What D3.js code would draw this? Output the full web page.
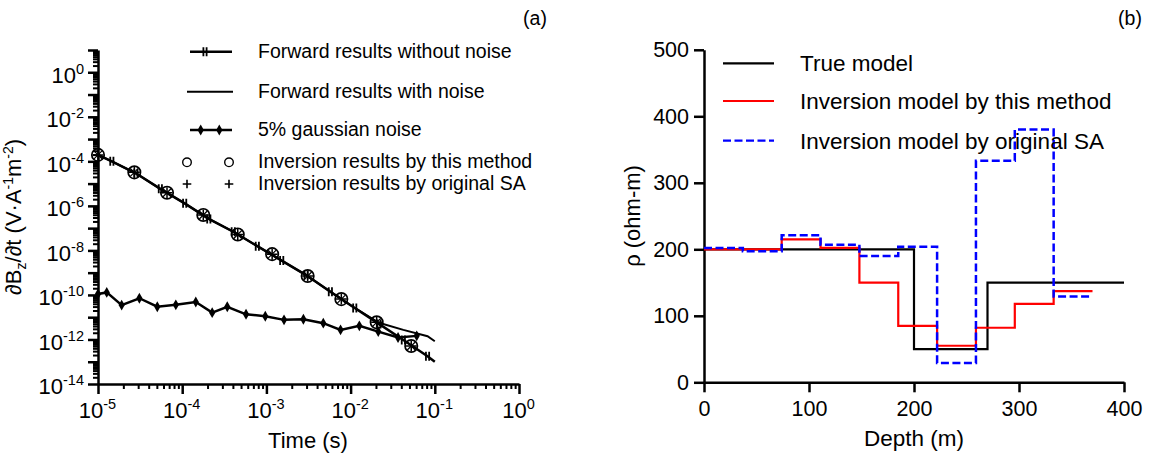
<!DOCTYPE html>
<html>
<head>
<meta charset="utf-8">
<script src="https://cdn.jsdelivr.net/npm/d3@7"></script>
<style>
  body { margin: 0; background: #fff; }
  text { font-family: Arial, "Liberation Sans", sans-serif; fill: #000; }
</style>
</head>
<body>
<script>
// ---- panel (a) data ----
var fwdTimes = [1.0e-5, 1.46e-5, 2.82e-5, 5.5e-5, 1.07e-4, 2.07e-4, 4.04e-4, 7.8e-4, 1.52e-3, 2.96e-3, 5.75e-3, 1.12e-2, 2.17e-2, 4.23e-2, 8.2e-2, 0.1];
var fwdClean = [1.95e-4, 1.0e-4, 2.9e-5, 5.8e-6, 1.3e-6, 2.6e-7, 6.9e-8, 1.55e-8, 3.5e-9, 7.8e-10, 1.4e-10, 2.6e-11, 5.0e-12, 9.5e-13, 1.75e-13, 1.0e-13];
var fwdNoisy = [1.95e-4, 1.0e-4, 2.9e-5, 5.8e-6, 1.3e-6, 2.6e-7, 6.9e-8, 1.55e-8, 3.5e-9, 7.8e-10, 1.4e-10, 2.6e-11, 5.6e-12, 2.7e-12, 1.4e-12, 8.3e-13];
var noiseTimes = [1.0e-5, 1.27e-5, 1.91e-5, 3.1e-5, 5.06e-5, 8.4e-5, 1.45e-4, 2.27e-4, 3.43e-4, 5.73e-4, 9.7e-4, 1.62e-3, 2.75e-3, 4.74e-3, 7.6e-3, 1.27e-2, 2.13e-2, 3.66e-2, 6.1e-2];
var noiseValues = [1.1e-10, 1.3e-10, 3.5e-11, 7.1e-11, 2.95e-11, 3.6e-11, 4.8e-11, 1.6e-11, 2.95e-11, 1.35e-11, 1.1e-11, 7.6e-12, 8.1e-12, 5.4e-12, 2.7e-12, 4.1e-12, 2.25e-12, 1.23e-12, 1.45e-12];
var invTimes = [1.0e-5, 2.7e-5, 6.6e-5, 1.78e-4, 4.57e-4, 1.17e-3, 3.09e-3, 7.76e-3, 2.04e-2, 5.25e-2];
var invValues = [1.95e-4, 3.2e-5, 3.9e-6, 3.9e-7, 5.2e-8, 6.8e-9, 7.1e-10, 6.5e-11, 5.9e-12, 5.1e-13];
var timeTicks = [-5, -4, -3, -2, -1, 0];
var ampTicks = [0, -2, -4, -6, -8, -10, -12, -14];

var legendA = ["Forward results without noise", "Forward results with noise", "5% gaussian noise",
               "Inversion results by this method", "Inversion results by original SA"];

// ---- panel (b) data ----
var trueDepths = [0, 200, 270, 400];
var trueRho = [200, 50, 150];
var layerDepths = [0, 37, 74, 111, 148, 185, 222, 259, 296, 333, 370];
var thisRho = [200, 200, 215, 202, 150, 85, 55, 82, 118, 137];
var saRho = [202, 197, 221, 207, 190, 204, 29, 333, 380, 129];
var depthTicks = [0, 100, 200, 300, 400];
var rhoTicks = [0, 100, 200, 300, 400, 500];

var legendB = [
  {name: "True model", color: "#000", dash: null},
  {name: "Inversion model by this method", color: "#ff0000", dash: null},
  {name: "Inversion model by original SA", color: "#0000ff", dash: "8,3.5"}
];

var W = 1157, H = 455;
var svg = d3.select("body").append("svg").attr("width", W).attr("height", H);

// ================= panel (a) =================
var x = d3.scaleLog().domain([1e-5, 1]).range([98, 519]);
var y = d3.scaleLog().domain([1e-14, 10]).range([384, 50]);

function minorTicks(lo, hi) {
  var out = [];
  for (var e = lo; e < hi; e++)
    for (var k = 2; k <= 9; k++) out.push(k * Math.pow(10, e));
  return out;
}
function supText(sel, exp) {
  sel.text(null);
  sel.append("tspan").text("10");
  sel.append("tspan").attr("dy", -9).style("font-size", "14.5px").text(exp);
}

var gA = svg.append("g");

// x axis (a)
gA.append("g").attr("transform", "translate(0,384)")
  .call(d3.axisBottom(x).tickValues(minorTicks(-5, 0)).tickSize(5).tickFormat(""))
  .call(function (g) { g.select(".domain").remove(); g.selectAll("line").attr("stroke-width", 2); });
var xa = gA.append("g").attr("transform", "translate(0,384)")
  .call(d3.axisBottom(x).tickValues(timeTicks.map(function (e) { return Math.pow(10, e); }))
        .tickSize(10).tickSizeOuter(0).tickPadding(8));
xa.select(".domain").attr("stroke-width", 2.5);
xa.selectAll("line").attr("stroke-width", 2.5);
xa.selectAll("text").style("font-size", "22px").attr("dx", -1)
  .each(function (d) { supText(d3.select(this), Math.round(Math.log10(d))); });

// y axis (a)
gA.append("g").attr("transform", "translate(98,0)")
  .call(d3.axisLeft(y).tickValues(minorTicks(-14, 1)).tickSize(5).tickFormat(""))
  .call(function (g) { g.select(".domain").remove(); g.selectAll("line").attr("stroke-width", 2); });
var ya = gA.append("g").attr("transform", "translate(98,0)")
  .call(d3.axisLeft(y).tickValues(d3.range(-14, 2).map(function (e) { return Math.pow(10, e); }))
        .tickSize(10).tickSizeOuter(0).tickPadding(4));
ya.select(".domain").attr("stroke-width", 2.5);
ya.selectAll("line").attr("stroke-width", 2.5);
ya.selectAll("text").style("font-size", "22px").attr("dy", "0.45em")
  .each(function (d) {
    var e = Math.round(Math.log10(d));
    if (ampTicks.indexOf(e) < 0) { d3.select(this).remove(); return; }
    supText(d3.select(this), e);
  });

// titles (a)
gA.append("text").attr("x", 308).attr("y", 448).attr("text-anchor", "middle")
  .style("font-size", "22px").text("Time (s)");
var yt = gA.append("text").attr("transform", "translate(21,217) rotate(-90)")
  .attr("text-anchor", "middle").style("font-size", "22px");
yt.append("tspan").text("\u2202B");
yt.append("tspan").attr("dy", 5).style("font-size", "14px").text("z");
yt.append("tspan").attr("dy", -5).text("/\u2202t (V\u00b7A");
yt.append("tspan").attr("dy", -8).style("font-size", "14px").text("-1");
yt.append("tspan").attr("dy", 8).text("m");
yt.append("tspan").attr("dy", -8).style("font-size", "14px").text("-2");
yt.append("tspan").attr("dy", 8).text(")");
gA.append("text").attr("x", 535).attr("y", 25).attr("text-anchor", "middle")
  .style("font-size", "19.5px").text("(a)");

// series (a)
var lineA = d3.line().x(function (d) { return x(d[0]); }).y(function (d) { return y(d[1]); });
var zip = function (a, b) { return a.map(function (v, i) { return [v, b[i]]; }); };

gA.append("path").datum(zip(fwdTimes, fwdNoisy)).attr("d", lineA)
  .attr("fill", "none").attr("stroke", "#000").attr("stroke-width", 2);
gA.append("path").datum(zip(fwdTimes, fwdClean)).attr("d", lineA)
  .attr("fill", "none").attr("stroke", "#000").attr("stroke-width", 2.5);
gA.append("path").datum(zip(noiseTimes, noiseValues)).attr("d", lineA)
  .attr("fill", "none").attr("stroke", "#000").attr("stroke-width", 2.5);

function barMark(g, cx, cy) {
  g.append("path").attr("d", "M" + (cx - 1.6) + "," + (cy - 4.5) + "v9M" + (cx + 1.6) + "," + (cy - 4.5) + "v9")
    .attr("stroke", "#000").attr("stroke-width", 1.8);
}
zip(fwdTimes, fwdClean).slice(1, 15).forEach(function (d) { barMark(gA, x(d[0]), y(d[1])); });

var diamond = d3.symbol().type(d3.symbolDiamond).size(34);
gA.selectAll(".dia").data(zip(noiseTimes, noiseValues)).enter().append("path")
  .attr("d", diamond).attr("transform", function (d) { return "translate(" + x(d[0]) + "," + y(d[1]) + ")"; });

function plusMark(g, cx, cy, s, w) {
  g.append("path").attr("d", "M" + (cx - s) + "," + cy + "h" + (2 * s) + "M" + cx + "," + (cy - s) + "v" + (2 * s))
    .attr("stroke", "#000").attr("stroke-width", w);
}
zip(invTimes, invValues).forEach(function (d) {
  var cx = x(d[0]), cy = y(d[1]);
  gA.append("circle").attr("cx", cx).attr("cy", cy).attr("r", 6.2)
    .attr("fill", "none").attr("stroke", "#000").attr("stroke-width", 1.7);
  plusMark(gA, cx, cy, 5.5, 1.5);
  gA.append("path").attr("d", "M" + (cx - 4) + "," + (cy - 4) + "l8,8M" + (cx + 4) + "," + (cy - 4) + "l-8,8")
    .attr("stroke", "#000").attr("stroke-width", 1.2);
});

// legend (a)
var legA = gA.append("g");
var rowsA = [51.7, 91.7, 130, 162.3, 184];
legA.append("line").attr("x1", 190).attr("x2", 232).attr("y1", rowsA[0]).attr("y2", rowsA[0]).attr("stroke", "#000").attr("stroke-width", 2.5);
barMark(legA, 205, rowsA[0]);
legA.append("line").attr("x1", 187).attr("x2", 233).attr("y1", rowsA[1]).attr("y2", rowsA[1]).attr("stroke", "#000").attr("stroke-width", 2);
legA.append("line").attr("x1", 190).attr("x2", 232).attr("y1", rowsA[2]).attr("y2", rowsA[2]).attr("stroke", "#000").attr("stroke-width", 2.5);
[200.7, 219.3].forEach(function (cx) {
  legA.append("path").attr("d", diamond).attr("transform", "translate(" + cx + "," + rowsA[2] + ")");
});
[187, 229].forEach(function (cx) {
  legA.append("circle").attr("cx", cx).attr("cy", rowsA[3]).attr("r", 4.3)
    .attr("fill", "none").attr("stroke", "#000").attr("stroke-width", 1.4);
  plusMark(legA, cx, rowsA[4], 4.3, 1.6);
});
legendA.forEach(function (t, i) {
  legA.append("text").attr("x", 258).attr("y", rowsA[i] + (i < 3 ? 6 : 5.5))
    .style("font-size", "19.5px").text(t);
});

// ================= panel (b) =================
var xb = d3.scaleLinear().domain([0, 400]).range([704, 1124]);
var yb = d3.scaleLinear().domain([0, 500]).range([382.3, 49.8]);
var gB = svg.append("g");

var xax = gB.append("g").attr("transform", "translate(0,382.3)")
  .call(d3.axisBottom(xb).tickValues(depthTicks).tickSize(10).tickSizeOuter(0).tickPadding(8));
var yax = gB.append("g").attr("transform", "translate(704,0)")
  .call(d3.axisLeft(yb).tickValues(rhoTicks).tickSize(10).tickSizeOuter(0).tickPadding(5));
[xax, yax].forEach(function (a) {
  a.select(".domain").attr("stroke-width", 2.5);
  a.selectAll("line").attr("stroke-width", 2.5);
  a.selectAll("text").style("font-size", "21.5px");
});

gB.append("text").attr("x", 914).attr("y", 446).attr("text-anchor", "middle")
  .style("font-size", "22.5px").text("Depth (m)");
gB.append("text").attr("transform", "translate(640,216) rotate(-90)").attr("text-anchor", "middle")
  .style("font-size", "22px").text("\u03c1 (ohm-m)");
gB.append("text").attr("x", 1130).attr("y", 25).attr("text-anchor", "middle")
  .style("font-size", "19.5px").text("(b)");

var stepLine = d3.line().curve(d3.curveStepAfter)
  .x(function (d) { return xb(d[0]); }).y(function (d) { return yb(d[1]); });
function stepData(bounds, vals) {
  var pts = vals.map(function (v, i) { return [bounds[i], v]; });
  pts.push([bounds[vals.length], vals[vals.length - 1]]);
  return pts;
}
gB.append("path").datum(stepData(trueDepths, trueRho)).attr("d", stepLine)
  .attr("fill", "none").attr("stroke", "#000").attr("stroke-width", 2.2);
gB.append("path").datum(stepData(layerDepths, thisRho)).attr("d", stepLine)
  .attr("fill", "none").attr("stroke", "#ff0000").attr("stroke-width", 2.2);
gB.append("path").datum(stepData(layerDepths, saRho)).attr("d", stepLine)
  .attr("fill", "none").attr("stroke", "#0000ff").attr("stroke-width", 2.5).attr("stroke-dasharray", "8,3.5");

var rowsB = [63.3, 101, 140.7];
legendB.forEach(function (s, i) {
  gB.append("line").attr("x1", 723).attr("x2", 774).attr("y1", rowsB[i]).attr("y2", rowsB[i])
    .attr("stroke", s.color).attr("stroke-width", 2.2).attr("stroke-dasharray", s.dash);
  gB.append("text").attr("x", 800).attr("y", rowsB[i] + 8).style("font-size", "22.5px").text(s.name);
});
</script>
</body>
</html>
